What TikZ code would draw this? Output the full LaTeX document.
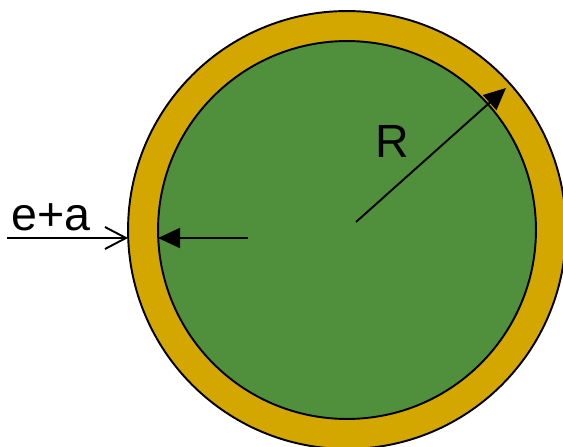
\documentclass[tikz,border=0pt]{standalone}
\usepackage{fontspec}
\setmainfont{Liberation Sans}
\usepackage{xcolor}
\definecolor{shellGold}{HTML}{D4A600}
\definecolor{coreGreen}{HTML}{50903C}
\usetikzlibrary{arrows.meta}
\tikzset{
  ring/.style={draw=black, line width=1.1pt, circle, inner sep=0pt, outer sep=0pt},
  dimline/.style={line width=1.1pt},
  bigtxt/.style={anchor=base, inner sep=0pt, font=\fontsize{26.5}{32}\selectfont},
}
\begin{document}
\begin{tikzpicture}[x=0.02cm, y=-0.02cm]
  \useasboundingbox (0,0) rectangle (563,446);
  % shell and core
  \node[ring, fill=shellGold, minimum size=8.76cm] (shell) at (347,230) {};
  \node[ring, fill=coreGreen, minimum size=7.56cm] (core) at (347,230) {};
  % radius
  \coordinate (rfoot) at (356,222);
  \coordinate (rtip) at (506,88);
  \draw[dimline, -{Triangle[length=0.44cm, width=0.40cm]}] (rfoot) -- (rtip);
  \node[bigtxt] (rlabel) at (392,157) {R};
  % thickness
  \coordinate (eafoot) at (7,238);
  \coordinate (corefoot) at (248,238);
  \draw[dimline, -{Straight Barb[length=0.42cm, width=0.44cm]}] (eafoot) -- (eafoot -| shell.west);
  \draw[dimline, -{Triangle[length=0.44cm, width=0.40cm]}] (corefoot) -- (corefoot -| core.west);
  \node[bigtxt] (ealabel) at (51,230) {e+a};
\end{tikzpicture}
\end{document}
